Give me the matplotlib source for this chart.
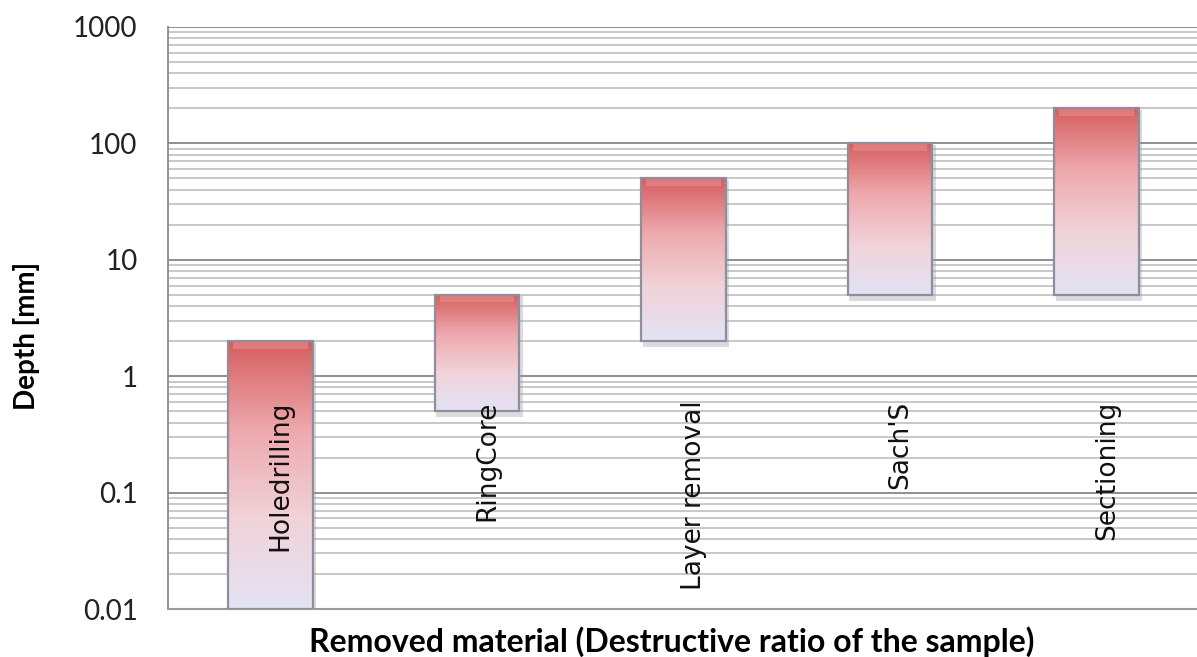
import matplotlib
matplotlib.use("Agg")
import matplotlib.pyplot as plt
import numpy as np
from matplotlib.colors import LinearSegmentedColormap
from matplotlib.ticker import FixedLocator, LogLocator, NullFormatter

# data
methods = ["Holedrilling", "RingCore", "Layer removal", "Sach'S", "Sectioning"]
depth_min = [0.01, 0.5, 2, 5, 5]
depth_max = [2, 5, 50, 100, 200]
ytick_vals = [0.01, 0.1, 1, 10, 100, 1000]
ytick_labels = ["0.01", "0.1", "1", "10", "100", "1000"]

plt.rcParams["font.family"] = ["Lato", "DejaVu Sans"]

fig = plt.figure(figsize=(11.97, 6.57), dpi=100)
ax = fig.add_axes([0.1404, 0.073, 0.862, 0.886])

grad = LinearSegmentedColormap.from_list(
    "bar", ["#e3e2f3", "#f0d2d8", "#eda9ae", "#d65f60"])

bar_w = 0.41
n_slice = 90
x = np.arange(len(methods))
for i in range(len(methods)):
    lo, hi = depth_min[i], depth_max[i]
    edges = np.logspace(np.log10(lo), np.log10(hi), n_slice + 1)
    frac = np.linspace(0, 1, n_slice)
    # soft shadow below/right
    ax.bar(x[i] + 0.012, hi / 1.03 - lo / 1.12, bottom=lo / 1.12,
           width=bar_w + 0.01, color="#9a9aa6", alpha=0.35, linewidth=0, zorder=2)
    ax.bar(np.full(n_slice, x[i]), np.diff(edges), bottom=edges[:-1], width=bar_w,
           color=grad(frac), linewidth=0, zorder=3)
    # bevel highlight at top
    ax.bar(x[i], hi / 1.02 - hi / 1.16, bottom=hi / 1.16, width=bar_w * 0.88,
           color="#f5b8b8", alpha=0.3, linewidth=0, zorder=4)
    ax.bar(x[i], hi - lo, bottom=lo, width=bar_w, color="none",
           edgecolor="#8e8e9c", linewidth=1.6, zorder=5)
    ax.text(x[i] + 0.05, 0.62, methods[i], rotation=90, ha="center", va="top",
            fontsize=19, family=["DejaVu Sans"], color="#111111", zorder=6)

ax.set_yscale("log")
ax.set_ylim(0.01, 1000)
ax.set_xlim(-0.495, 4.5)
ax.set_xticks([])
ax.yaxis.set_major_locator(FixedLocator(ytick_vals))
ax.set_yticklabels(ytick_labels, fontsize=20)
ax.yaxis.set_minor_locator(LogLocator(base=10, subs=np.arange(2, 10)))
ax.yaxis.set_minor_formatter(NullFormatter())
ax.tick_params(axis="y", which="both", length=0, pad=22, colors="#222222")
ax.grid(axis="y", which="major", color="#8f8f8f", linewidth=1.4, zorder=0)
ax.grid(axis="y", which="minor", color="#c4c4c4", linewidth=1.3, zorder=0)

for side in ["top", "right"]:
    ax.spines[side].set_visible(False)
ax.spines["left"].set_color("#8a8a8a")
ax.spines["left"].set_linewidth(1.3)
ax.spines["bottom"].set_color("#9a9a9a")
ax.spines["bottom"].set_linewidth(1.5)

ax.set_ylabel("Depth [mm]", fontsize=20, fontweight="bold")
ax.yaxis.set_label_coords(-0.124, 0.47)
ax.set_xlabel("Removed material (Destructive ratio of the sample)", fontsize=23,
              fontweight="bold")
ax.xaxis.set_label_coords(0.488, -0.03)

fig.savefig("out.png", dpi=100)
